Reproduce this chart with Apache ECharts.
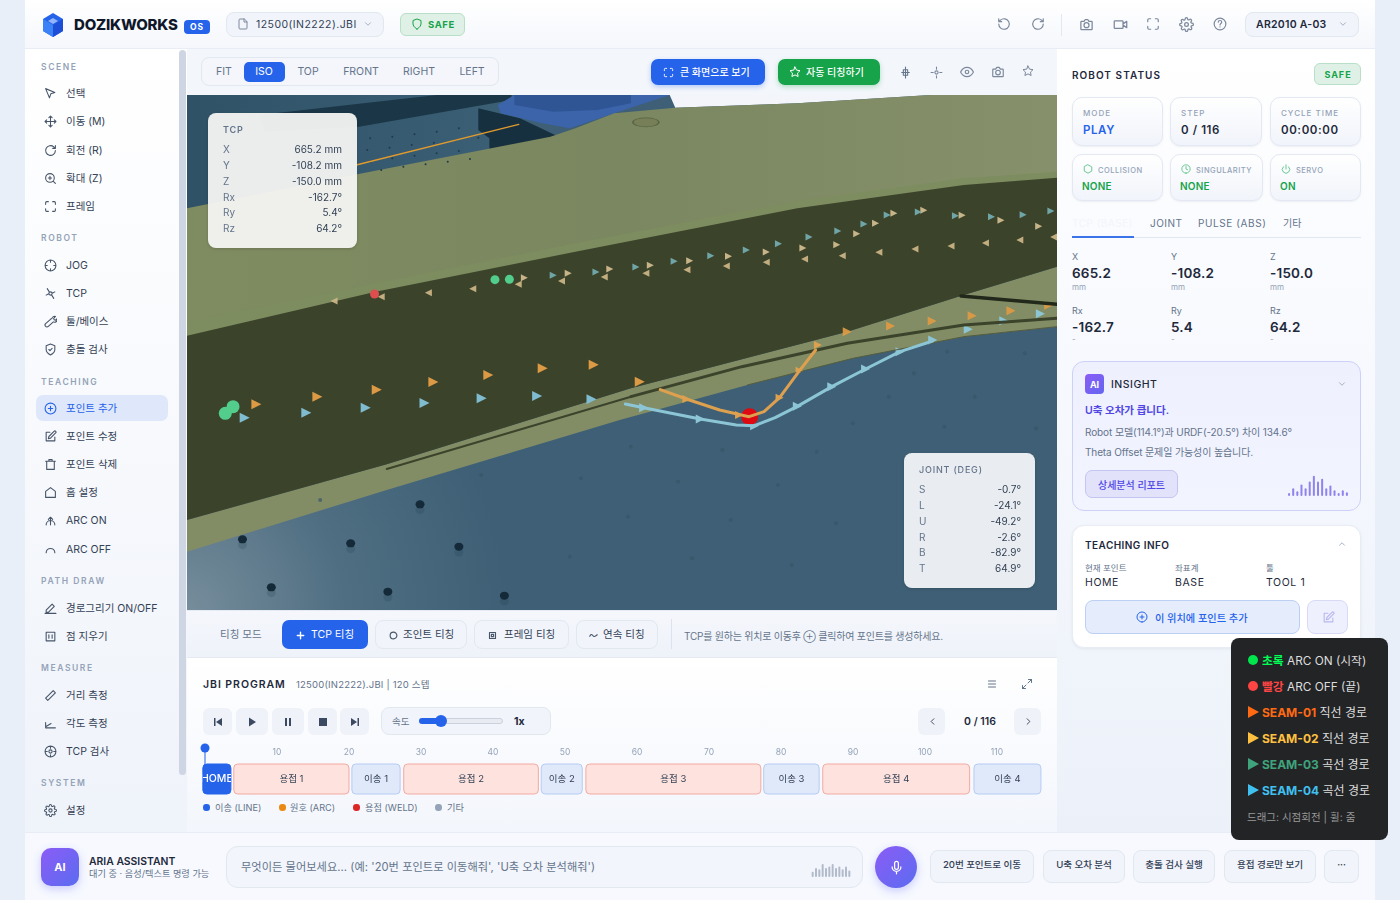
<!DOCTYPE html>
<html lang="ko"><head><meta charset="utf-8"><title>DOZIKWORKS</title>
<script src="https://cdn.jsdelivr.net/npm/echarts@6/dist/echarts.min.js"></script>
<style>
html,body{margin:0;padding:0;width:1400px;height:900px;overflow:hidden;background:#e9eff8;font-family:Inter,"Noto Sans CJK KR","Noto Sans",sans-serif;color:#1e293b}
#app{position:absolute;left:0;top:0;width:1400px;height:900px;overflow:hidden}
#app *{box-sizing:border-box}
</style></head><body><div id="app"></div>
<script>
/* ---------- scene data: x / y on the viewport axes (0-1568, 0-1545) ---------- */
const scenePanelBack   = [[0,0],[620,0],[620,150],[300,250],[0,350]];
const sceneRailDark    = [[130,60],[450,0],[585,0],[585,15],[310,95],[140,110]];
const sceneBlockDark   = [[525,40],[600,70],[670,125],[545,195],[545,130],[525,105]];
const sceneBaseFlange  = [[560,30],[590,0],[870,0],[770,55],[690,100],[640,85],[565,55]];
const sceneBaseDrum    = [[590,0],[800,0],[800,25],[740,45],[660,50],[590,30]];
const sceneWhite       = [[870,0],[1340,0],[1100,25],[880,38]];
const sceneOliveTop    = [[0,340],[300,240],[655,125],[700,100],[770,55],[880,38],[1100,25],[1340,0],[1568,0],[1568,260],[1400,280],[1100,350],[700,480],[340,600],[0,730]];
const sceneOliveEdge   = [[0,682],[340,565],[700,445],[1100,318],[1400,250],[1568,230],[1568,260],[1400,280],[1100,350],[700,480],[340,600],[0,730]];
const sceneDarkFace    = [[0,722],[340,590],[700,470],[1100,340],[1400,270],[1568,248],[1568,515],[1400,600],[1190,710],[800,880],[360,1108],[0,1275]];
const sceneOliveStrip  = [[0,1275],[360,1108],[800,880],[1190,710],[1400,600],[1568,515],[1568,695],[1400,725],[1200,790],[1010,870],[780,975],[360,1185],[0,1370]];
const sceneSlitFar     = [[360,1122],[800,905]];
const sceneSlitNear    = [[800,905],[1000,815],[1190,745],[1400,690],[1568,670]];
const sceneStripEdge   = [[1010,870],[1200,790],[1400,725],[1568,695]];
const sceneBar         = [[1395,603],[1568,628]];
const sceneWire        = [[305,210],[598,88]];
const sceneCap         = [[827,82]];
const floorHoles       = [[420,1228],[100,1333],[295,1345],[490,1355],[152,1477],[362,1490],[572,1502]];
const floorDots        = [[530,1140],[710,1150],[885,1160],[1065,1170],[240,1215],[795,1265],[980,1275],[1170,1285],[1375,1295],[690,1385],[910,1390],[1090,1410],[1365,1160],[1200,985],[1365,995],[1530,1000],[965,1065],[1135,1070],[800,1055],[1265,905],[1420,905],[1310,835],[1510,775],[1370,770]];
const tableDots        = [[330,130],[370,125],[410,118],[450,110],[490,100],[325,165],[365,158],[405,150],[445,143],[485,135],[525,128],[330,200],[370,190],[410,182],[450,175],[490,168],[350,225],[390,215],[430,208],[470,200],[510,192]];
const seam2Back  = [[265,618],[350,605],[435,593],[515,581],[597,568],[675,558],[752,546],[827,535],[901,524],[972,513],[1044,502],[1113,492],[1181,482],[1247,472],[1312,462],[1377,453],[1439,444],[1501,435],[1562,426]];
const seam2Fore  = [[608,548],[687,535],[762,522],[835,511],[906,497],[976,484],[1044,471],[1110,459],[1171,449],[1207,416],[1241,385],[1274,355],[1328,346],[1397,361],[1467,376],[1535,394]];
const seam3Top   = [[660,541],[737,531],[809,516],[878,499],[944,482],[1008,465],[1066,446],[1121,426],[1173,408],[1220,387],[1262,360],[1318,351],[1385,362],[1450,365],[1507,359],[1557,348]];
const seam1Low   = [[125,928],[235,905],[342,884],[444,861],[543,840],[641,820],[733,809],[816,860]];
const seam1Right = [[1190,710],[1268,693],[1343,678],[1415,662],[1485,647],[1553,631]];
const seam1Near  = [[900,912],[995,960],[1068,908],[1104,827],[1137,750]];
const seam4Low   = [[104,968],[215,953],[322,938],[428,924],[531,910],[631,903],[729,913]];
const seam4Near  = [[823,938],[925,972],[1023,992],[1100,934],[1162,875],[1223,822],[1285,770],[1344,735],[1408,703],[1472,677],[1538,656]];
const seam1Path  = [[853,884],[900,912],[960,945],[1013,965],[1040,950],[1068,908],[1104,827],[1133,765]];
const seam4Path  = [[790,927],[823,938],[925,972],[990,990],[1023,992],[1060,968],[1100,934],[1162,875],[1223,822],[1285,770],[1344,738]];
const arcOnPoints  = [[83,935],[69,955]];
const arcOnFar     = [[555,554],[581,553]];
const arcOffFar    = [[338,597]];
const currentPoint = [[1014,965]];

/* ---------- timeline data (steps) ---------- */
const segNames  = ['HOME','용접 1','이송 1','용접 2','이송 2','용접 3','이송 3','용접 4','이송 4'];
const segStart  = [-0.3,4,20.4,27.6,46.7,52.9,77.6,85.8,106.8];
const segEnd    = [3.6,20,27.1,46.3,52.4,77.2,85.3,106.2,116.1];
const segKinds  = ['home','weld','line','weld','line','weld','line','weld','line'];
const stepTickInterval = 10;
const stepMax   = 116;
const currentStep = 0;

/* ---------- small wave data ---------- */
const insightWave = [3,8,5,12,8,15,21,15,18,8,11,6,3,6,4];
const micWave     = [4,7,6,10,7,8,10,7,8,6,8,5];

/* ---------- tables ---------- */
const tcpLabels=['X','Y','Z','Rx','Ry','Rz'];
const tcpOverlay=['665.2 mm','-108.2 mm','-150.0 mm','-162.7°','5.4°','64.2°'];
const jointLabels=['S','L','U','R','B','T'];
const jointValues=['-0.7°','-24.1°','-49.2°','-2.6°','-82.9°','64.9°'];
const tcpValues=['665.2','-108.2','-150.0','-162.7','5.4','64.2'];
const tcpUnits=['mm','mm','mm','-','-','-'];

/* ---------- icons ---------- */
const I={
pointer:'M3 3l7.07 17 2.51-7.39L20 10.07z',
move:'M5 9l-3 3 3 3M9 5l3-3 3 3M15 19l-3 3-3-3M19 9l3 3-3 3M2 12h20M12 2v20',
rotate:'M21 12a9 9 0 1 1-3-6.7L21 8M21 3v5h-5',
undo:'M3 12a9 9 0 1 0 3-6.7L3 8M3 3v5h5',
zoom:'M11 19a8 8 0 1 0 0-16 8 8 0 0 0 0 16zM21 21l-4.3-4.3M11 8v6M8 11h6',
frame:'M3 8V5a2 2 0 0 1 2-2h3M16 3h3a2 2 0 0 1 2 2v3M21 16v3a2 2 0 0 1-2 2h-3M8 21H5a2 2 0 0 1-2-2v-3',
cross:'M12 22a10 10 0 1 0 0-20 10 10 0 0 0 0 20zM2 12h4M18 12h4M12 2v4M12 18v4',
tcp:'M12 9a3 3 0 1 0 0 6 3 3 0 0 0 0-6zM6 3l4 6.5M18 21l-4-6.5M4 15l4-2M20 9l-4 2',
wrench:'M14.7 6.3a5 5 0 0 1 6.6-3.6l-3.5 3.5 1 2.5 2.5 1 3-3a5 5 0 0 1-7 6L8 21a2.5 2.5 0 0 1-5-5l9-8z',
shield:'M12 22s8-4 8-10V5l-8-3-8 3v7c0 6 8 10 8 10z',
shieldc:'M12 22s8-4 8-10V5l-8-3-8 3v7c0 6 8 10 8 10zM9 12l2 2 4-4',
plusc:'M12 22a10 10 0 1 0 0-20 10 10 0 0 0 0 20zM12 8v8M8 12h8',
edit:'M11 4H4v16h16v-7M18.5 2.5a2.1 2.1 0 0 1 3 3L12 15l-4 1 1-4z',
trash:'M3 6h18M5 6v15h14V6M9 6V3h6v3',
home:'M3 10l9-7 9 7v11H3z',
arcon:'M12 6v14M8 10l4-4 4 4M4 20a8 8 0 0 1 16 0',
arcoff:'M4 18a8 8 0 0 1 16 0',
pen:'M2 21h20M15 4l4 4L8 19H4v-4z',
eraser:'M4 4h16v16H4zM9 9v6M15 9v6M4 4h16',
ruler:'M3 17L17 3l4 4L7 21z',
angle:'M3 20h18M3 20V10M3 18l10-6',
target:'M12 22a10 10 0 1 0 0-20 10 10 0 0 0 0 20zM12 15a3 3 0 1 0 0-6 3 3 0 0 0 0 6zM2 12h4M18 12h4M12 2v4M12 18v4',
gear:'M12 15a3 3 0 1 0 0-6 3 3 0 0 0 0 6zM19.4 15a1.65 1.65 0 0 0 .33 1.82l.06.06a2 2 0 1 1-2.83 2.83l-.06-.06a1.65 1.65 0 0 0-2.82 1.17V21a2 2 0 1 1-4 0v-.09a1.65 1.65 0 0 0-2.82-1.08l-.06.06a2 2 0 1 1-2.83-2.83l.06-.06a1.65 1.65 0 0 0-1.17-2.82H3a2 2 0 1 1 0-4h.09a1.65 1.65 0 0 0 1.08-2.82l-.06-.06a2 2 0 1 1 2.83-2.83l.06.06a1.65 1.65 0 0 0 2.82-1.17V3a2 2 0 1 1 4 0v.09a1.65 1.65 0 0 0 2.82 1.08l.06-.06a2 2 0 1 1 2.83 2.83l-.06.06a1.65 1.65 0 0 0 1.17 2.82H21a2 2 0 1 1 0 4h-.09a1.65 1.65 0 0 0-1.51 1z',
camera:'M4 7h4l2-3h4l2 3h4a1 1 0 0 1 1 1v11a1 1 0 0 1-1 1H4a1 1 0 0 1-1-1V8a1 1 0 0 1 1-1zM12 17a4 4 0 1 0 0-8 4 4 0 0 0 0 8z',
video:'M3 6h12a1 1 0 0 1 1 1v10a1 1 0 0 1-1 1H3a1 1 0 0 1-1-1V7a1 1 0 0 1 1-1zM16 11l6-4v10l-6-4',
help:'M12 22a10 10 0 1 0 0-20 10 10 0 0 0 0 20zM9 9a3 3 0 0 1 6 0c0 2-3 2.5-3 4.5M12 17h.01',
eye:'M1 12s4-8 11-8 11 8 11 8-4 8-11 8-11-8-11-8zM12 15a3 3 0 1 0 0-6 3 3 0 0 0 0 6z',
star:'M12 2l3.1 6.3 6.9 1-5 4.9 1.2 6.8-6.2-3.2L5.8 21 7 14.2 2 9.3l6.9-1z',
file:'M14 2H6a2 2 0 0 0-2 2v16a2 2 0 0 0 2 2h12a2 2 0 0 0 2-2V8zM14 2v6h6',
down:'M6 9l6 6 6-6',up:'M6 15l6-6 6 6',left:'M15 6l-6 6 6 6',right:'M9 6l6 6-6 6',
list:'M5 6h14M5 12h14M5 18h14',
expand:'M21 3l-7 7M21 3h-6M21 3v6M3 21l7-7M3 21h6M3 21v-6',
mic:'M12 2a3 3 0 0 0-3 3v7a3 3 0 0 0 6 0V5a3 3 0 0 0-3-3zM19 11a7 7 0 0 1-14 0M12 18v4',
power:'M12 2v10M18.4 6.6a9 9 0 1 1-12.8 0',
clock:'M12 22a10 10 0 1 0 0-20 10 10 0 0 0 0 20zM12 6v6l4 2',
hex:'M12 2l9 5v10l-9 5-9-5V7z',
plus:'M12 5v14M5 12h14',
circ:'M12 21a9 9 0 1 0 0-18 9 9 0 0 0 0 18z',
rect:'M4 4h16v16H4zM9 9h6v6H9z',
wave:'M2 14c3-6 5-6 8-2s5 4 12-2',
crossp:'M12 2v20M5 12h14M8 7h8v10H8z',
sun:'M12 15a3 3 0 1 0 0-6 3 3 0 0 0 0 6zM12 2v4M12 18v4M2 12h4M18 12h4'
};
const H=[];
const ic=(n,cx,cy,s=14,c='#64748b',w=2)=>H.push(`<svg style="position:absolute;left:${cx-s/2}px;top:${cy-s/2}px" width="${s}" height="${s}" viewBox="0 0 24 24" fill="none" stroke="${c}" stroke-width="${w}" stroke-linecap="round" stroke-linejoin="round"><path d="${I[n]}"/></svg>`);
const box=(x,y,w,h,st='',id='')=>H.push(`<div ${id?`id="${id}"`:''} style="position:absolute;left:${x}px;top:${y}px;width:${w}px;height:${h}px;${st}"></div>`);
const T=(x,y,s,st='',tx='0,-50%')=>H.push(`<span style="position:absolute;left:${x}px;top:${y+0.8}px;transform:translate(${tx});white-space:nowrap;line-height:1.2;${st}">${s}</span>`);
const TC=(x,y,s,st='')=>T(x,y,s,st,'-50%,-50%');
const TR=(x,y,s,st='')=>T(x,y,s,st,'-100%,-50%');
const BTN='background:#f1f4fb;border:1px solid #e2e8f0;border-radius:8px;';
const CARD='background:linear-gradient(#fff,#f1f4fb);border:1px solid #e3e8f2;border-radius:10px;box-shadow:0 1px 2px rgba(100,116,139,.1);';

/* app shell */
box(25,0,1350,900,'background:#f5f7fc');
box(25,0,1350,49,'background:linear-gradient(#fff,#f5f7fc);border-bottom:1px solid #e8ecf4');
box(25,49,162,783,'background:linear-gradient(#fff,#eff3fa)');
box(179,50,7,725,'background:#ced5e3;border-radius:4px');
box(187,49,870,46,'background:#f3f6fb');
box(187,610,870,48,'background:linear-gradient(#f5f7fc,#eef2f9);border-top:1px solid #e5eaf3;border-bottom:1px solid #e5eaf3');
box(187,658,870,174,'background:linear-gradient(#fff,#f3f6fc)');
box(1057,49,318,783,'background:linear-gradient(#fff 0%,#f7f9fe 40%,#ecf1f9 100%)');
box(25,832,1350,68,'background:#f7f9ff;border-top:1px solid #e8ecf4');

/* header */
H.push(`<svg style="position:absolute;left:42px;top:13px" width="22" height="24" viewBox="0 0 22 24"><path d="M11 0l10 6v12l-10 6L1 18V6z" fill="#2563eb"/><path d="M11 12l10-6v12l-10 6z" fill="#1d4ed8"/><path d="M1 6l10 6v12L1 18z" fill="#3b82f6"/><path d="M6 8l5-3 5 3-5 3z" fill="#93b4f8"/></svg>`);
T(74,24,'DOZIKWORKS','font-size:15px;font-weight:800;color:#0f172a;letter-spacing:-.2px');
box(184,20,26,14,'background:#2563eb;border-radius:4px');TC(197,26.5,'OS','font-size:8.5px;font-weight:700;color:#fff;letter-spacing:1px');
box(226,12,158,25,BTN);ic('file',243,24,12,'#7c889c');T(256,24,'12500(IN2222).JBI','font-size:10.5px;color:#334155;letter-spacing:.45px');ic('down',368,24,10,'#94a3b8');
box(400,13,65,23,'background:#dff1e6;border:1px solid #b8dfc7;border-radius:6px');ic('shield',417,24,12,'#16a34a');T(428,24,'SAFE','font-size:9.5px;font-weight:700;color:#16a34a;letter-spacing:.6px');
ic('undo',1004,24,14,'#7c889c');ic('rotate',1038,24,14,'#7c889c');box(1061,14,1,22,'background:#e2e8f0');
ic('camera',1086,24,15,'#7c889c');ic('video',1120,24,15,'#7c889c');ic('frame',1153,24,14,'#7c889c');ic('gear',1186,24,15,'#7c889c');ic('help',1220,24,14,'#7c889c');
box(1245,12,114,25,BTN);T(1256,24,'AR2010 A-03','font-size:10.5px;font-weight:600;color:#1e293b;letter-spacing:.25px');ic('down',1343,24,10,'#94a3b8');

/* sidebar */
[['SCENE',41,67],['ROBOT',41,238],['TEACHING',41,382],['PATH DRAW',41,581],['MEASURE',41,668],['SYSTEM',41,783]].forEach(a=>T(a[1],a[2]-.8,a[0],'font-size:8.5px;font-weight:600;color:#94a3b8;letter-spacing:1.6px'));
box(36,395,132,26,'background:#dfe8fa;border-radius:7px');
[['pointer','선택',93],['move','이동 (M)',121],['rotate','회전 (R)',150],['zoom','확대 (Z)',178],['frame','프레임',206],['cross','JOG',265],['tcp','TCP',293],['wrench','툴/베이스',321],['shieldc','충돌 검사',349],['plusc','포인트 추가',408],['edit','포인트 수정',436],['trash','포인트 삭제',464],['home','홈 설정',492],['arcon','ARC ON',520],['arcoff','ARC OFF',549],['pen','경로그리기 ON/OFF',608],['eraser','점 지우기',636],['ruler','거리 측정',695],['angle','각도 측정',723],['target','TCP 검사',751],['gear','설정',810]].forEach(a=>{const on=a[1]==='포인트 추가';ic(a[0],50,a[2],13,on?'#2563eb':'#475569');T(66,a[2],a[1],`font-size:10.5px;color:${on?'#2563eb':'#334155'}`)});

/* view toolbar */
box(201,57,298,29,'background:#f4f6fb;border:1px solid #e2e8f0;border-radius:8px');
box(244,62,41,20,'background:#2563eb;border-radius:5px');
[['FIT',224],['ISO',264],['TOP',308],['FRONT',361],['RIGHT',419],['LEFT',472]].forEach(a=>TC(a[1],71.5,a[0],`font-size:10.5px;color:${a[0]==='ISO'?'#fff':'#64748b'}`));
box(651,59,114,26,'background:#2563eb;border-radius:7px;box-shadow:0 2px 5px rgba(37,99,235,.3)');ic('frame',668,72,11,'#fff');T(680,71.5,'큰 화면으로 보기','font-size:10px;color:#fff;font-weight:500');
box(778,59,102,26,'background:#16a34a;border-radius:7px;box-shadow:0 2px 5px rgba(22,163,74,.3)');ic('star',795,72,12,'#fff');T(806,71.5,'자동 티칭하기','font-size:10px;color:#fff;font-weight:500');
ic('crossp',905,72,13,'#64748b');ic('sun',936,72,13,'#7c889c');ic('eye',967,72,14,'#7c889c');ic('camera',998,72,14,'#7c889c');ic('star',1028,71,12,'#7c889c');

/* viewport and overlay panels */
box(187,95,870,515,'','scene');
box(208,113,149,135,'background:rgba(246,246,244,.94);border-radius:8px;box-shadow:0 1px 3px rgba(0,0,0,.15)');
T(223,129,'TCP','font-size:9px;font-weight:600;color:#64748b;letter-spacing:.8px');
[148,164,180,196,211,227].forEach((y,i)=>{T(223,y,tcpLabels[i],'font-size:10px;color:#64748b');TR(342,y,tcpOverlay[i],'font-size:10px;color:#334155')});
box(904,453,131,135,'background:rgba(240,243,246,.96);border-radius:8px;box-shadow:0 1px 3px rgba(0,0,0,.15)');
T(919,469,'JOINT (DEG)','font-size:9px;font-weight:500;color:#64748b;letter-spacing:.8px');
[488,504,520,536,551,567].forEach((y,i)=>{T(919,y,jointLabels[i],'font-size:10px;color:#64748b');TR(1021,y,jointValues[i],'font-size:10px;color:#334155')});

/* teaching mode */
T(220,634,'티칭 모드','font-size:10.5px;color:#64748b');
box(282,620,86,29,'background:#2563eb;border-radius:7px');ic('plus',300,635,11,'#fff',3);T(311,634,'TCP 티칭','font-size:10.5px;color:#fff');
[[375,92,'circ','조인트 티칭',393,403],[474,95,'rect','프레임 티칭',492,504],[576,82,'wave','연속 티칭',593,603]].forEach(a=>{box(a[0],620,a[1],29,BTN);ic(a[2],a[4],635,9,'#475569',3);T(a[5],634,a[3],'font-size:10.5px;color:#334155')});
box(671,619,1,30,'background:#dde3ee');
T(684,635,'TCP를 원하는 위치로 이동후 <span style="font-size:9px">⊕</span> 클릭하여 포인트를 생성하세요.','font-size:10px;color:#64748b;letter-spacing:-.22px');

/* JBI program */
T(203,684,'JBI PROGRAM','font-size:10.5px;font-weight:600;color:#1e293b;letter-spacing:.95px');
T(296,684,'12500(IN2222).JBI | 120 스텝','font-size:9.5px;color:#64748b;letter-spacing:.2px');
ic('list',992,684,12,'#64748b');ic('expand',1027,684,12,'#64748b');
[[203,29],[236,32],[272,32],[308,29],[340,29]].forEach(a=>box(a[0],708,a[1],27,'background:#eff2f9;border-radius:6px'));
const glyph=(x,p)=>H.push(`<svg style="position:absolute;left:${x-6}px;top:715.5px" width="12" height="12" viewBox="0 0 12 12" fill="#3b4a60"><path d="${p}"/></svg>`);
glyph(217.5,'M2 2h1.5v8H2zM10 2v8L4 6z');glyph(252,'M3 1.5v9l7-4.5z');glyph(288,'M3 2h2v8H3zM7 2h2v8H7z');glyph(322.5,'M2 2h8v8H2z');glyph(354.5,'M10 2h-1.5v8H10zM2 2v8l6-4z');
box(381,707,170,28,BTN);T(392,721,'속도','font-size:9.5px;color:#64748b');
box(419,718,84,6,'background:#e8ebf1;border:1px solid #cbd2dd;border-radius:3px');box(419,718,22,6,'background:#2563eb;border-radius:3px');box(435,715,12,12,'background:#2563eb;border-radius:50%');
T(514,721,'1x','font-size:10.5px;font-weight:700;color:#1e293b');
box(918,708,27,27,'background:#eff2f9;border-radius:6px');ic('left',932,721,11,'#334155');TC(980,721,'0 / 116','font-size:10.5px;font-weight:600;color:#1e293b');box(1014,708,27,27,'background:#eff2f9;border-radius:6px');ic('right',1028,721,11,'#334155');
box(187,742,870,58,'','timeline');
[[206,'#2563eb','이송 (LINE)',215],[282,'#ea8a14','원호 (ARC)',290],[356,'#dc2626','용접 (WELD)',365],[438,'#94a3b8','기타',447]].forEach(a=>{box(a[0]-3,804,6.5,6.5,`background:${a[1]};border-radius:50%`);T(a[3],807,a[2],'font-size:9.2px;color:#64748b')});

/* right panel */
T(1072,74,'ROBOT STATUS','font-size:10px;font-weight:600;color:#1e293b;letter-spacing:1.05px');
box(1314,63,47,22,'background:#dff1e6;border:1px solid #b8dfc7;border-radius:6px');TC(1338,74,'SAFE','font-size:9px;font-weight:700;color:#16a34a;letter-spacing:1px');
[[1072,91,'MODE','PLAY','#2563eb'],[1170,92,'STEP','0 / 116','#1e293b'],[1270,91,'CYCLE TIME','00:00:00','#1e293b']].forEach(a=>{box(a[0],97,a[1],49,CARD);T(a[0]+11,113,a[2],'font-size:8px;color:#94a3b8;letter-spacing:1px;font-weight:500');T(a[0]+11,130,a[3],`font-size:11.5px;font-weight:600;letter-spacing:.6px;color:${a[4]}`)});
[[1072,91,'hex','COLLISION','NONE'],[1170,93,'clock','SINGULARITY','NONE'],[1270,91,'power','SERVO','ON']].forEach(a=>{box(a[0],154,a[1],47,CARD);ic(a[2],a[0]+16,169,10,'#4fbf7f');T(a[0]+26,169,a[3],'font-size:7.5px;color:#94a3b8;letter-spacing:.5px;font-weight:500');T(a[0]+10,185,a[4],'font-size:10px;font-weight:600;color:#16a34a;letter-spacing:.2px')});
T(1072,222,'TCP (BASE)','font-size:10px;color:#f2f5fb;letter-spacing:.5px');T(1150,222,'JOINT','font-size:10px;color:#64748b;letter-spacing:.5px');T(1198,222,'PULSE (ABS)','font-size:10px;color:#64748b;letter-spacing:.6px');T(1283,222,'기타','font-size:10px;color:#64748b');
box(1072,237,289,1,'background:#e2e8f0');box(1072,236,62,2,'background:#3b74e8');
[[1072,256],[1171,256],[1270,256],[1072,310],[1171,310],[1270,310]].forEach((p,i)=>{T(p[0],p[1],tcpLabels[i],'font-size:9px;color:#64748b');T(p[0],p[1]+16.5,tcpValues[i],'font-size:13.5px;font-weight:600;color:#1e293b;letter-spacing:.2px');T(p[0],p[1]+(i<3?31:29),tcpUnits[i],'font-size:8px;color:#94a3b8')});

/* insight */
box(1072,361,289,150,'background:linear-gradient(#eef0fe,#f2f4ff);border:1px solid #cdd0f8;border-radius:12px');
box(1085,374,19,20,'background:linear-gradient(135deg,#8b5cf6,#6366f1);border-radius:4px');TC(1094.5,384,'AI','font-size:9px;font-weight:700;color:#fff');
T(1111,384,'INSIGHT','font-size:10.5px;font-weight:500;color:#1e293b;letter-spacing:.5px');ic('down',1342,384,10,'#94a3b8');
T(1085,410,'U축 오차가 큽니다.','font-size:10.5px;font-weight:600;color:#4f46e5');
T(1085,431,'Robot 모델(114.1°)과 URDF(-20.5°) 차이 134.6°','font-size:10px;color:#64748b;letter-spacing:-.1px');
T(1085,451,'Theta Offset 문제일 가능성이 높습니다.','font-size:10px;color:#64748b;letter-spacing:-.12px');
box(1085,470,93,28,'background:#e2e2fb;border:1px solid #c4c5f3;border-radius:7px');TC(1131.5,484,'상세분석 리포트','font-size:10px;font-weight:500;color:#4f46e5');
box(1287,472,62,24,'','waveInsight');

/* teaching info */
box(1072,525,289,123,'background:#fff;border:1px solid #e8ecf4;border-radius:12px;box-shadow:0 1px 3px rgba(100,116,139,.1)');
T(1085,544,'TEACHING INFO','font-size:10px;font-weight:600;color:#1e293b;letter-spacing:.45px');ic('up',1342,544,10,'#94a3b8');
[[1085,'현재 포인트','HOME'],[1175,'좌표계','BASE'],[1266,'툴','TOOL 1']].forEach(a=>{T(a[0],567,a[1],'font-size:8.5px;color:#64748b');T(a[0],582,a[2],'font-size:10.5px;color:#1e293b;letter-spacing:.6px')});
box(1085,600,215,34,'background:#e5edfd;border:1px solid #bcd0f5;border-radius:8px');ic('plusc',1142,617,12,'#2563eb');T(1155,617,'이 위치에 포인트 추가','font-size:10.2px;font-weight:500;color:#2563eb');
box(1307,600,41,34,'background:#eef0fe;border:1px solid #d8daf8;border-radius:8px');ic('edit',1328,617,13,'#b9b6f0');

/* bottom assistant */
box(41,848,38,38,'background:linear-gradient(135deg,#8b5cf6,#5b6cf0);border-radius:10px;box-shadow:0 3px 8px rgba(99,102,241,.3)');TC(60,867,'AI','font-size:11px;font-weight:700;color:#fff');
T(89,861,'ARIA ASSISTANT','font-size:10.4px;font-weight:600;color:#1e293b');T(89,873,'대기 중 · 음성/텍스트 명령 가능','font-size:9.2px;color:#64748b');
box(226,846,637,42,'background:#f2f5fb;border:1px solid #e2e8f0;border-radius:12px');T(241,867,'무엇이든 물어보세요... (예: \'20번 포인트로 이동해줘\', \'U축 오차 분석해줘\')','font-size:11.2px;color:#64748b;letter-spacing:.05px');
box(811,864,40,13,'','waveMic');
box(875,846,42,42,'background:linear-gradient(135deg,#8b5cf6,#5b6cf0);border-radius:50%;box-shadow:0 3px 8px rgba(99,102,241,.3)');ic('mic',896,867,15,'#fff');
[[930,104,'20번 포인트로 이동'],[1043,82,'U축 오차 분석'],[1133,82,'충돌 검사 실행'],[1224,92,'용접 경로만 보기'],[1324,35,'···']].forEach(a=>{box(a[0],850,a[1],33,BTN);TC(a[0]+a[1]/2,864,a[2],'font-size:9.6px;font-weight:500;color:#334155;letter-spacing:-.1px')});

/* seam legend */
box(1231,638,157,202,'background:#232426;border-radius:8px');
const tri=(y,c)=>H.push(`<svg style="position:absolute;left:1248px;top:${y-6}px" width="11" height="12"><path d="M0 0L11 6L0 12z" fill="${c}"/></svg>`);
box(1248,655,10,10,'background:#00e64d;border-radius:50%');T(1262,660,'<span style="color:#00ff55;font-weight:700">초록</span> ARC ON (시작)','font-size:11.8px;color:#ddd');
box(1248,681,10,10,'background:#ff4444;border-radius:50%');T(1262,686,'<span style="color:#ff4444;font-weight:700">빨강</span> ARC OFF (끝)','font-size:11.8px;color:#ddd');
[[712,'#ff6a13','SEAM-01','직선 경로'],[738,'#ffc040','SEAM-02','직선 경로'],[764,'#3fa37c','SEAM-03','곡선 경로'],[790,'#40c0f0','SEAM-04','곡선 경로']].forEach(a=>{tri(a[0],a[1]);T(1262,a[0],`<span style="color:${a[1]};font-weight:700">${a[2]}</span> ${a[3]}`,'font-size:12px;color:#ddd')});
T(1247,817,'드래그: 시점회전 | 휠: 줌','font-size:10.5px;color:#999');
document.getElementById('app').innerHTML=H.join('');

/* ---------- scene chart ---------- */
const G=echarts.graphic;
const poly=(pts,fill,extra={})=>({type:'custom',silent:true,coordinateSystem:'cartesian2d',clip:true,data:[0],
  renderItem:(p,api)=>({type:'polygon',shape:{points:pts.map(q=>api.coord(q))},style:Object.assign({fill},extra)})});
const stroke=(pts,color,width,opacity=1)=>({type:'line',data:pts,silent:true,symbol:'none',lineStyle:{color,width,opacity,cap:'round',join:'round'}});
const dots=(pts,size,color,opacity=1,symbol='circle',rot=0,border)=>({type:'scatter',data:pts,silent:true,symbol,symbolSize:size,symbolRotate:rot,itemStyle:Object.assign({color,opacity},border?{borderColor:border,borderWidth:1}:{})});
const scene=echarts.init(document.getElementById('scene'));
const oliveFill=new G.LinearGradient(0,0,1,0,[{offset:0,color:'#7f8b60'},{offset:.5,color:'#7b8760'},{offset:1,color:'#86916b'}]);
scene.setOption({animation:false,tooltip:{show:false},
 grid:{left:0,right:0,top:0,bottom:0},
 xAxis:{type:'value',min:0,max:1568,show:false},
 yAxis:{type:'value',min:0,max:1545,inverse:true,show:false},
 series:[
  poly([[0,0],[1568,0],[1568,1545],[0,1545]],new G.RadialGradient(0,1,.62,[{offset:0,color:'#768d9b'},{offset:.5,color:'#4f6e82'},{offset:1,color:'#3e5f75'}])),
  poly(scenePanelBack,new G.LinearGradient(0,0,1,0,[{offset:0,color:'#2f5267'},{offset:1,color:'#3c6076'}])),
  dots(tableDots,2,'#20394a'),
  poly(sceneRailDark,'#1b3747'),
  poly(sceneBlockDark,'#16303f'),
  stroke(sceneWire,'#e09a2e',1.3),
  poly(sceneWhite,'#f3f5fa'),
  poly(sceneBaseFlange,'#3c64aa'),
  poly(sceneBaseDrum,'#2f5594'),
  poly(sceneOliveTop,oliveFill),
  poly(sceneOliveEdge,'#7d8d60'),
  dots(sceneCap,[26,9],'#767f58',1,'circle',0,'#5a6444'),
  poly(sceneOliveStrip,'#828d66'),
  poly(sceneDarkFace,'#3c432b'),
  stroke(sceneSlitFar,'#3c432b',2),
  stroke(sceneSlitNear,'#3c432b',3),
  stroke(sceneStripEdge,'#555d3f',1),
  stroke(sceneBar,'#22291b',3.5),
  dots(floorDots,4,'#385668',.7),
  dots(floorHoles.map(p=>[p[0],p[1]+16]),9,'#1f3a4c',.2),
  dots(floorHoles,[9,8],'#142a38'),
  dots(seam2Back,[7,7],'#cfb98a',.9,'triangle',90),
  dots(seam2Fore,[7,7],'#d6c193',.9,'triangle',-90),
  dots(seam3Top,[7,7],'#76b0b5',.9,'triangle',-90),
  dots(seam1Low,[10,10],'#dc9a45',1,'triangle',-90),
  dots(seam1Right,[9,9],'#dc9a45',.95,'triangle',-90),
  dots(seam4Low,[10,10],'#80bcd0',1,'triangle',-90),
  stroke(seam1Path,'#dda04f',3),
  stroke(seam4Path,'#8cc6d6',3),
  dots(seam1Near,8,'#dda04f',1,'triangle',-90),
  dots(seam4Near,9,'#8cc6d6',1,'triangle',-90),
  dots(arcOffFar,9,'#dd4f4f'),
  dots(arcOnFar,9,'#52cd8b'),
  dots(arcOnPoints,13,'#52cd8b'),
  dots(currentPoint,17,'#dd0a12')
 ]});

/* ---------- timeline chart ---------- */
const segStyle={home:{fill:'#2563eb',stroke:'#2563eb',text:'#fff'},weld:{fill:'#fde2dd',stroke:'#f3aaa2',text:'#334155'},line:{fill:'#e0e9fa',stroke:'#b6cbf4',text:'#334155'}};
const tl=echarts.init(document.getElementById('timeline'));
tl.setOption({animation:false,tooltip:{show:false},
 grid:{left:18,top:22,width:835.2,height:30},
 xAxis:{type:'value',position:'top',min:0,max:stepMax,interval:stepTickInterval,
   axisLine:{show:false},axisTick:{show:false},splitLine:{show:false},
   axisLabel:{fontSize:8.5,color:'#94a3b8',margin:7,fontFamily:'Inter',showMaxLabel:false,formatter:v=>(v>0&&v%stepTickInterval===0)?String(v):''}},
 yAxis:{type:'category',data:['steps'],show:false},
 series:[
  {type:'custom',silent:true,clip:false,coordinateSystem:'cartesian2d',data:segNames.map((n,i)=>[segStart[i],segEnd[i],0,i]),encode:{x:[0,1],y:2},
   renderItem:(p,api)=>{const i=api.value(3),a=api.coord([api.value(0),0]),b=api.coord([api.value(1),0]),h=api.size([0,1])[1],k=segStyle[segKinds[i]];
     return {type:'group',children:[
       {type:'rect',shape:{x:a[0],y:a[1]-h/2,width:b[0]-a[0],height:h,r:4},style:{fill:k.fill,stroke:k.stroke,lineWidth:1}},
       {type:'text',style:{x:(a[0]+b[0])/2,y:a[1],text:segNames[i],fill:k.text,fontSize:i?9.5:10.5,fontWeight:i?400:500,fontFamily:'Inter,"Noto Sans CJK KR"',align:'center',verticalAlign:'middle'},clipPath:{type:'rect',shape:{x:a[0],y:a[1]-h/2,width:b[0]-a[0],height:h}}}
     ]}}},
  {type:'custom',silent:true,clip:false,coordinateSystem:'cartesian2d',z:5,data:[[currentStep,0]],encode:{x:0,y:1},
   renderItem:(p,api)=>{const c=api.coord([api.value(0),0]),top=p.coordSys.y;
     return {type:'group',children:[
       {type:'line',shape:{x1:c[0],y1:top-16,x2:c[0],y2:top+2},style:{stroke:'#2563eb',lineWidth:1}},
       {type:'circle',shape:{cx:c[0],cy:top-16,r:4.5},style:{fill:'#2563eb'}}]}}}
 ]});

/* ---------- little waves ---------- */
const wave=(id,vals,color,bw)=>echarts.init(document.getElementById(id)).setOption({animation:false,tooltip:{show:false},
  grid:{left:0,right:0,top:0,bottom:0},xAxis:{type:'category',show:false,data:vals.map((v,i)=>i)},yAxis:{type:'value',show:false,min:0},
  series:[{type:'bar',data:vals,silent:true,barWidth:bw,itemStyle:{color,borderRadius:1}}]});
wave('waveInsight',insightWave,'#8f83ee',2);
wave('waveMic',micWave,'#b1bbcc',2);
</script></body></html>
